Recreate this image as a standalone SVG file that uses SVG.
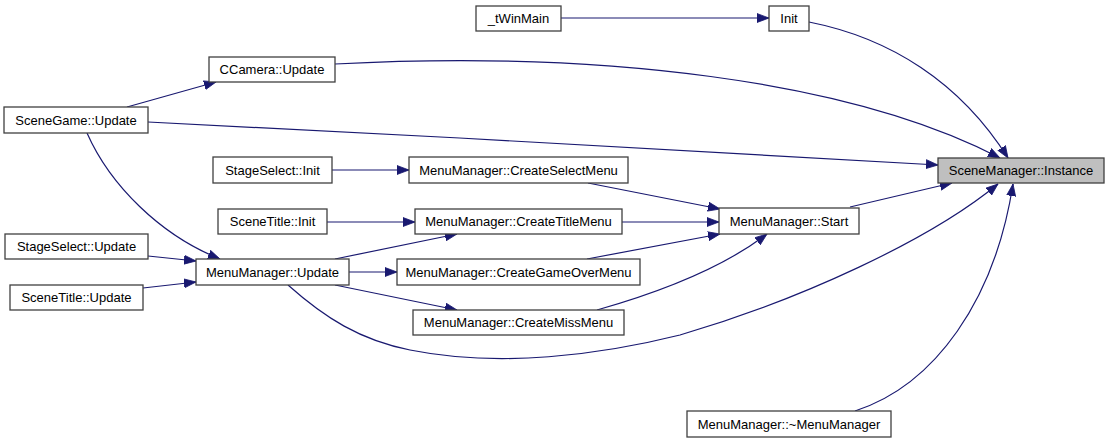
<svg xmlns="http://www.w3.org/2000/svg" width="1111" height="443" viewBox="0 0 1111 443">
<style>
.n rect{fill:#ffffff;stroke:#404040;stroke-width:1.3}
.n text{font-family:"Liberation Sans",Arial,sans-serif;font-size:13px;fill:#000000;text-anchor:middle}
#n_instance rect{fill:#bfbfbf}
.e path{fill:none;stroke:#191970;stroke-width:1.2;marker-end:url(#arr)}
</style>
<defs>
<marker id="arr" markerUnits="userSpaceOnUse" markerWidth="13" markerHeight="10" refX="12" refY="4.5" orient="auto" viewBox="0 0 13 9">
<path d="M0,0 L12,4.5 L0,9 z" fill="#191970" stroke="#191970" stroke-width="0.8"/>
</marker>
</defs>
<rect width="1111" height="443" fill="#ffffff"/>
<g id="edges" class="e">
<path d="M561,18 L769,18"/>
<path d="M809,22 C890,38 960,82 1008,158"/>
<path d="M335,64 C600,50 850,80 1000,158"/>
<path d="M127,107 L216,82"/>
<path d="M148,122 C400,135 800,155 938,165"/>
<path d="M87,133 C110,185 160,235 220,259"/>
<path d="M332,170 L409,170"/>
<path d="M588,183 L720,209"/>
<path d="M327,222 L415,222"/>
<path d="M622,222 L719,222"/>
<path d="M335,259 L457,234"/>
<path d="M349,272 L397,272"/>
<path d="M335,285 L457,310"/>
<path d="M587,259 L720,234"/>
<path d="M597,310 C650,295 720,270 767,234"/>
<path d="M850,207 L952,183"/>
<path d="M288,285 C325,318 360,340 410,350 C500,368 600,355 680,335 C800,300 930,240 998,184"/>
<path d="M855,411 C935,385 995,300 1013,184"/>
<path d="M148,256 L196,261"/>
<path d="M143,288 L196,282"/>
</g>
<g id="n_twinmain" class="n"><rect x="476" y="6" width="85" height="25"/><text x="518.5" y="23">_tWinMain</text></g>
<g id="n_init" class="n"><rect x="769" y="6" width="40" height="25"/><text x="789" y="23">Init</text></g>
<g id="n_ccamera" class="n"><rect x="209" y="57" width="126" height="25"/><text x="272" y="74">CCamera::Update</text></g>
<g id="n_scenegame" class="n"><rect x="4" y="107" width="144" height="26"/><text x="76" y="124.5">SceneGame::Update</text></g>
<g id="n_instance" class="n"><rect x="938" y="158" width="166" height="25"/><text x="1021" y="175">SceneManager::Instance</text></g>
<g id="n_stageselectinit" class="n"><rect x="213" y="157" width="119" height="26"/><text x="272.5" y="175">StageSelect::Init</text></g>
<g id="n_createselect" class="n"><rect x="409" y="157" width="219" height="26"/><text x="518.5" y="175">MenuManager::CreateSelectMenu</text></g>
<g id="n_scenetitleinit" class="n"><rect x="218" y="209" width="109" height="25"/><text x="272.5" y="226">SceneTitle::Init</text></g>
<g id="n_createtitle" class="n"><rect x="415" y="209" width="207" height="25"/><text x="518.5" y="226">MenuManager::CreateTitleMenu</text></g>
<g id="n_start" class="n"><rect x="719" y="208" width="140" height="26"/><text x="789" y="226">MenuManager::Start</text></g>
<g id="n_mmupdate" class="n"><rect x="196" y="259" width="153" height="26"/><text x="272.5" y="277">MenuManager::Update</text></g>
<g id="n_creategameover" class="n"><rect x="397" y="259" width="243" height="26"/><text x="518.5" y="277">MenuManager::CreateGameOverMenu</text></g>
<g id="n_createmiss" class="n"><rect x="413" y="310" width="211" height="25"/><text x="518.5" y="327">MenuManager::CreateMissMenu</text></g>
<g id="n_stageselectupdate" class="n"><rect x="5" y="234" width="143" height="25"/><text x="76.5" y="251">StageSelect::Update</text></g>
<g id="n_scenetitleupdate" class="n"><rect x="10" y="285" width="133" height="25"/><text x="76.5" y="302">SceneTitle::Update</text></g>
<g id="n_dtor" class="n"><rect x="687" y="411" width="204" height="26"/><text x="789" y="429">MenuManager::~MenuManager</text></g>
</svg>
